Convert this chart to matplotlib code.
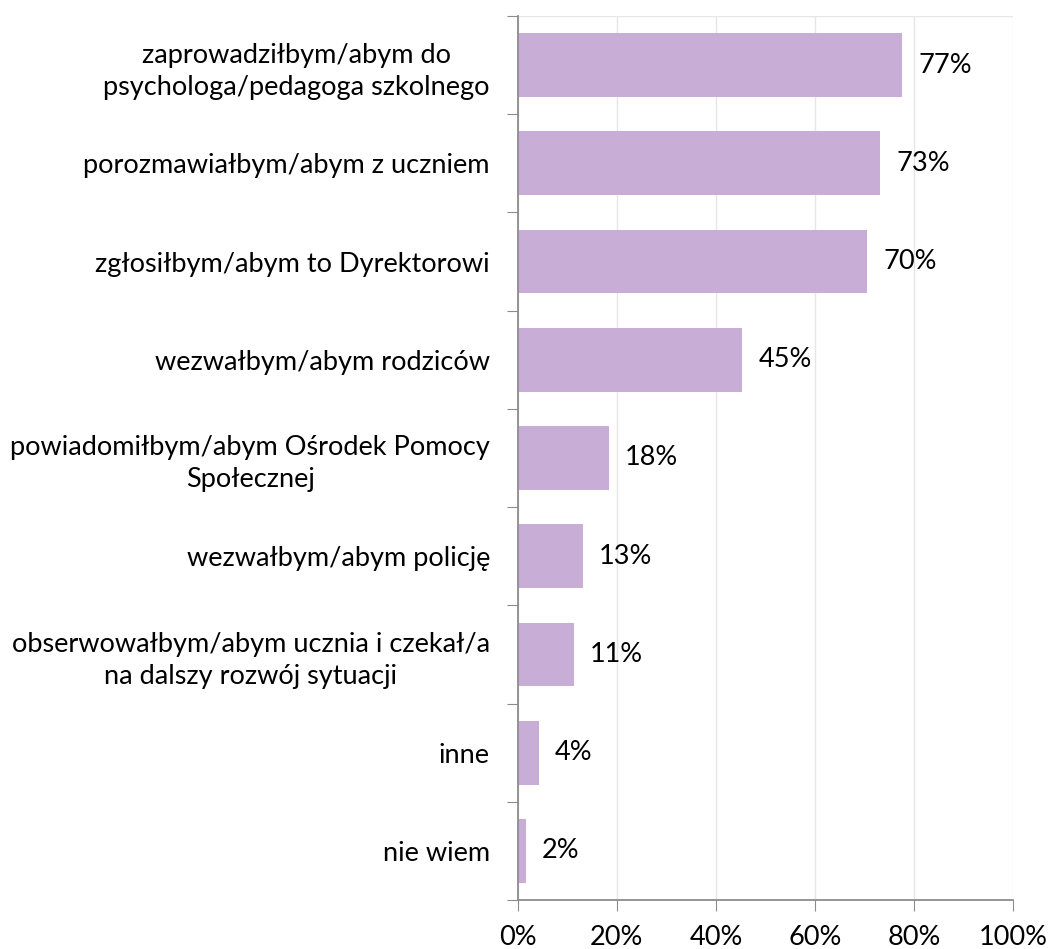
import matplotlib.pyplot as plt
import numpy as np

categories = [
    "zaprowadziłbym/abym do\npsychologa/pedagoga szkolnego",
    "porozmawiałbym/abym z uczniem",
    "zgłosiłbym/abym to Dyrektorowi",
    "wezwałbym/abym rodziców",
    "powiadomiłbym/abym Ośrodek Pomocy\nSpołecznej",
    "wezwałbym/abym policję",
    "obserwowałbym/abym ucznia i czekał/a\nna dalszy rozwój sytuacji",
    "inne",
    "nie wiem",
]
values = [77.6, 73.1, 70.5, 45.3, 18.4, 13.1, 11.3, 4.2, 1.6]
value_labels = ["77%", "73%", "70%", "45%", "18%", "13%", "11%", "4%", "2%"]
xticks = [0, 20, 40, 60, 80, 100]

plt.rcParams['font.family'] = ['Lato', 'DejaVu Sans']
FS = 19.5

fig = plt.figure(figsize=(10.48, 9.49), dpi=100)
ax = fig.add_axes([0.494, 0.0516, 0.473, 0.9316])

n = len(categories)
ypos = np.arange(n)[::-1]
ax.barh(ypos, values, height=0.65, color="#c8aed6", zorder=2)

for y, v, lab in zip(ypos, values, value_labels):
    ax.text(v + 3.3, y, lab, va="center", ha="left", fontsize=FS, color="black")

ax.set_xlim(0, 100)
ax.set_ylim(-0.5, n - 0.5)
ax.set_xticks(xticks)
ax.set_xticklabels([f"{t}%" for t in xticks], fontsize=FS)
ax.xaxis.grid(True, color="#e6e6e6", linewidth=1, zorder=0)
ax.axhline(n - 0.5, color="#e6e6e6", linewidth=1, zorder=0)

# category labels at centers, ticks at boundaries
ax.set_yticks(np.arange(-0.5, n, 1.0))
ax.set_yticklabels([])
ax.set_yticks(ypos, minor=True)
ax.set_yticklabels(categories, minor=True, fontsize=FS, ha="right", linespacing=1.35)
for t in ax.get_yticklabels(minor=True):
    t.set_multialignment("center")
ax.tick_params(axis="y", which="minor", length=0, pad=20)
ax.tick_params(axis="y", which="major", length=8, color="#8c8c8c", direction="out")
ax.tick_params(axis="x", length=8, color="#8c8c8c", direction="out", pad=10)

for s in ["top", "right"]:
    ax.spines[s].set_visible(False)
for s in ["left", "bottom"]:
    ax.spines[s].set_color("#8c8c8c")
    ax.spines[s].set_linewidth(1.3)

fig.savefig("out.png", dpi=100)
